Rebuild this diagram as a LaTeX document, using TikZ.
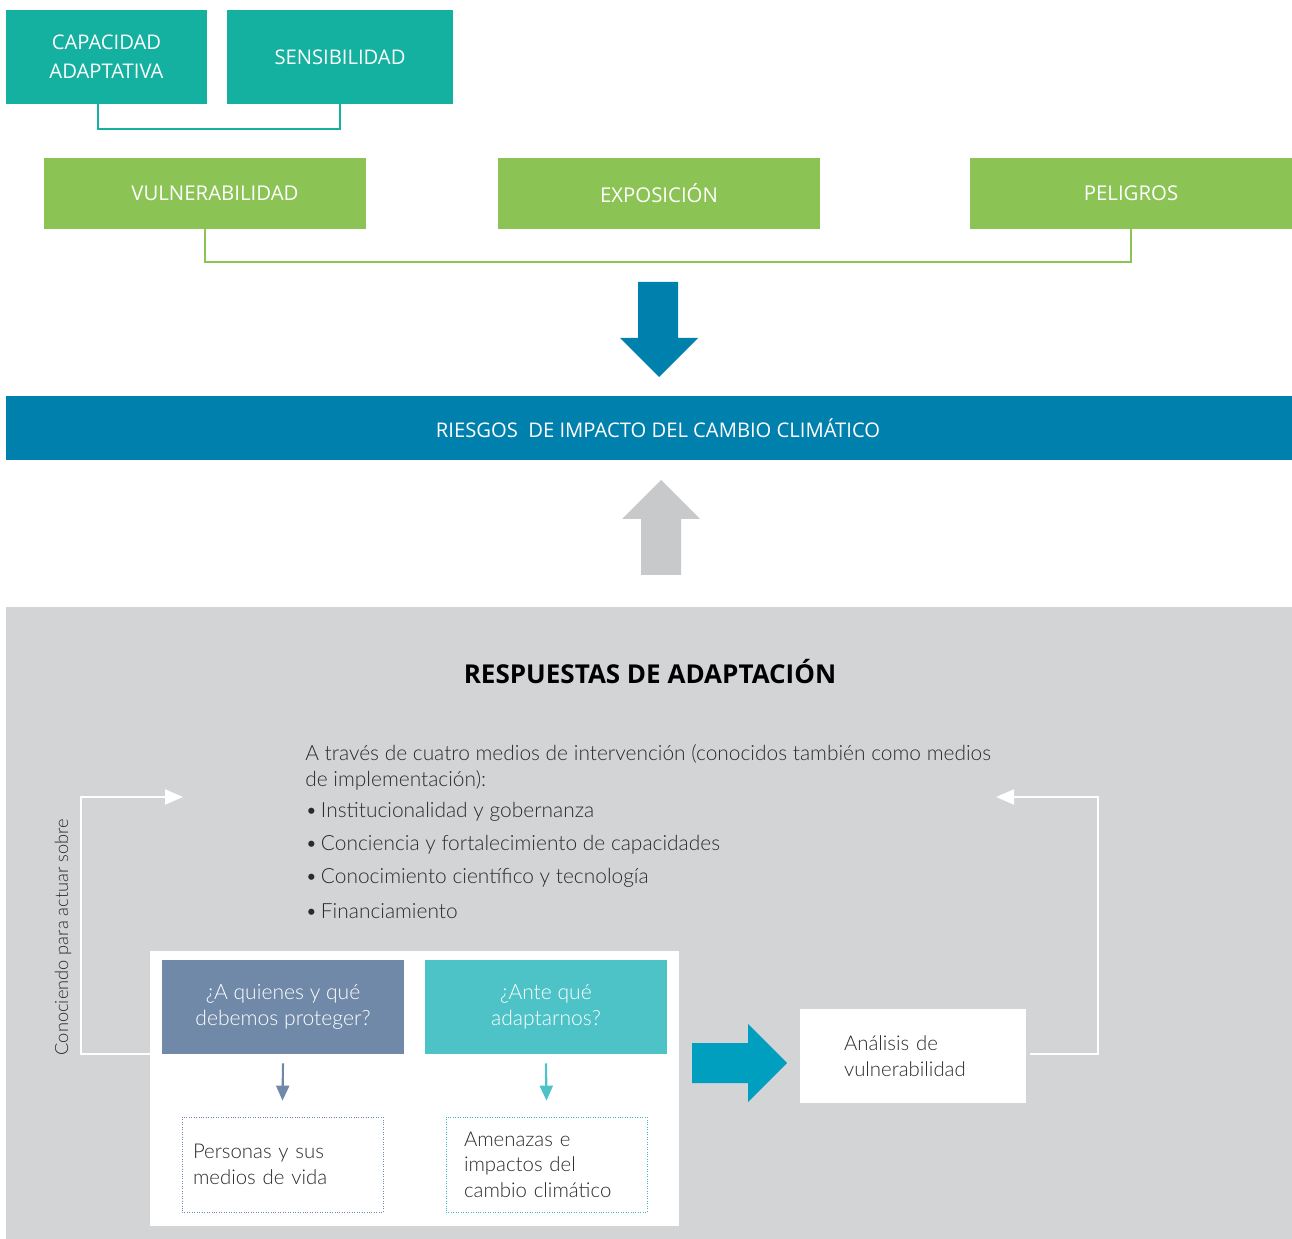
\documentclass[tikz,border=0pt]{standalone}
\usepackage{fontspec}
\setmainfont{Open Sans}
\IfFontExistsTF{Lato Light}{\newfontfamily\thinfont{Lato Light}}{\newfontfamily\thinfont{Lato}}
\usetikzlibrary{arrows.meta}
\definecolor{tealA}{HTML}{14B0A0}
\definecolor{greenA}{HTML}{8BC455}
\definecolor{blueA}{HTML}{0080AD}
\definecolor{grayA}{HTML}{C8C9CB}
\definecolor{panel}{HTML}{D3D4D6}
\definecolor{slate}{HTML}{7189A8}
\definecolor{tealB}{HTML}{4DC3C7}
\definecolor{cyanA}{HTML}{009EBF}
\definecolor{darktext}{HTML}{2B2B2B}

\begin{document}
\begin{tikzpicture}[x=0.02cm, y=-0.02cm,
  toplabel/.style={fill=tealA, text=white, inner sep=0pt, minimum height=1.88cm, align=center, font=\fontsize{11.5}{16.5}\selectfont},
  factor/.style={fill=greenA, text=white, inner sep=0pt, minimum width=6.44cm, minimum height=1.42cm, font=\fontsize{11.6}{14}\selectfont},
  question/.style={fill=#1, text=white, inner sep=0pt, minimum width=4.84cm, minimum height=1.88cm, align=center, font=\thinfont\fontsize{12}{14.7}\selectfont},
  answer/.style={draw=#1, densely dotted, text=darktext, inner ysep=0pt, minimum height=1.9cm, align=left, font=\thinfont\fontsize{11.6}{14.5}\selectfont},
  body/.style={text=darktext, inner sep=0pt, align=left, font=\thinfont\fontsize{11.9}{14.7}\selectfont},
  loopline/.style={draw=white, line width=1.2pt, -{Triangle[length=0.36cm, width=0.3cm]}},
]
  \useasboundingbox (0,0) rectangle (1292,1239);
  \fill[white] (0,0) rectangle (1292,1239);

  % Components of vulnerability
  \node[toplabel, minimum width=4.02cm] (cap) at (106.5,57) {CAPACIDAD\\ADAPTATIVA};
  \node[toplabel, minimum width=4.52cm] (sen) at (340,57) {SENSIBILIDAD};
  \draw[tealA, line width=1.1pt] ([xshift=-0.17cm]cap.south) -- ++(0,25) -| (sen.south);

  % Risk factors
  \node[factor] (vul) at (205,193.5) {\hspace{0.4cm}VULNERABILIDAD};
  \node[factor] (exp) at (659,193.5) {EXPOSICIÓN};
  \node[factor] (pel) at (1131,193.5) {PELIGROS};
  \draw[greenA, line width=1.1pt] (vul.south) -- ++(0,33) -| (pel.south);

  % Arrow to risks
  \fill[blueA] (638,282) -- (678,282) -- (678,338) -- (698,338) -- (659,377) -- (620,338) -- (638,338) -- cycle;

  \node[fill=blueA, text=white, inner sep=0pt, minimum width=25.72cm, minimum height=1.28cm,
        font=\fontsize{11.5}{13}\selectfont] (risk) at (649,428) {\hspace{0.36cm}RIESGOS\ \ DE IMPACTO DEL CAMBIO CLIMÁTICO};

  % Arrow from responses
  \fill[grayA] (661,480) -- (700,519) -- (681,519) -- (681,575) -- (641,575) -- (641,519) -- (622,519) -- cycle;

  % Adaptation responses
  \fill[panel] (6,607) rectangle (1292,1239);
  \node[text=black, font=\bfseries\fontsize{14.8}{16}\selectfont] (title) at (650,672) {RESPUESTAS DE ADAPTACIÓN};

  \node[body, anchor=north west] (intro) at (305,744)
    {A través de cuatro medios de intervención (conocidos también como medios\\de implementación):};
  \foreach \t [count=\i] in {Institucionalidad y gobernanza, Conciencia y fortalecimiento de capacidades,
      Conocimiento científico y tecnología, Financiamiento}
    \node[body, anchor=west] (b\i) at (305,{812+33*(\i-1)}) {\textbullet\,\t};

  \node[fill=white, inner sep=0pt, minimum width=10.58cm, minimum height=5.5cm] (wbox) at (414.5,1088.5) {};
  \node[question=slate] (q1) at (283,1007) {¿A quienes y qué\\debemos proteger?};
  \node[question=tealB] (q2) at (546,1007) {¿Ante qué\\adaptarnos?};

  \node[answer=slate, inner xsep=0.22cm, text width=3.58cm] (d1) at (282.5,1164.5) {Personas y sus\\medios de vida\\[-0.1cm]};
  \node[answer=tealB!80!teal, inner xsep=0.36cm, text width=3.3cm] (d2) at (546.5,1164.5) {Amenazas e\\impactos del\\cambio climático};

  \draw[slate, line width=1.2pt, -{Triangle[length=0.3cm, width=0.26cm]}] ([yshift=-0.18cm]q1.south) -- ([yshift=0.32cm]d1.north);
  \draw[tealB, line width=1.2pt, -{Triangle[length=0.3cm, width=0.26cm]}] ([yshift=-0.18cm]q2.south) -- ([yshift=0.32cm]d2.north);

  % Arrow to analysis
  \fill[cyanA] (692,1043) -- (748,1043) -- (748,1024) -- (787,1063) -- (748,1102) -- (748,1083) -- (692,1083) -- cycle;
  \node[fill=white, body, font=\thinfont\fontsize{11.6}{14.5}\selectfont, inner xsep=0.88cm, text width=2.76cm, minimum height=1.88cm] (anal) at (913,1056)
    {Análisis de\\vulnerabilidad};

  % Feedback loops
  \coordinate (ltop) at (183,797);
  \coordinate (rtop) at (996,797);
  \draw[loopline] (wbox.west |- q1.south) -- ++(-69,0) |- (ltop);
  \draw[loopline] ([xshift=0.08cm]anal.east |- q1.south) -- ++(68,0) |- (rtop);
  \node[rotate=90, text=darktext, font=\thinfont\fontsize{10.4}{12}\selectfont] (side) at (63,937) {Conociendo para actuar sobre};
\end{tikzpicture}
\end{document}
